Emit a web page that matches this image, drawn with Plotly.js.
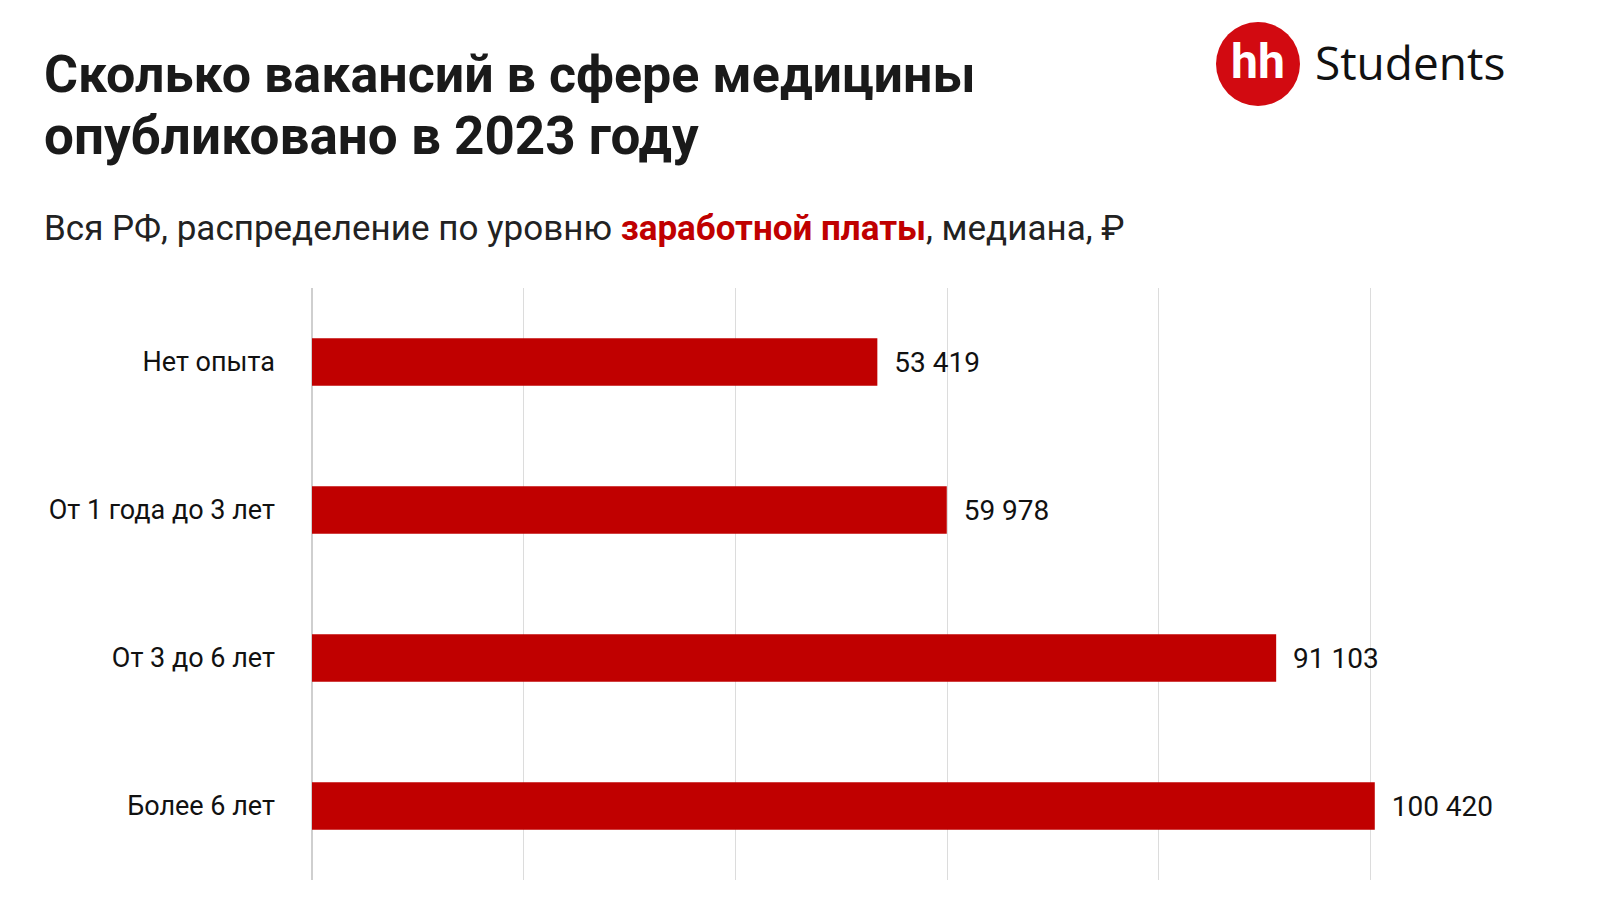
<!DOCTYPE html>
<html>
<head>
<meta charset="utf-8">
<script src="https://cdn.plot.ly/plotly-3.0.1.min.js"></script>
<style>html,body{margin:0;padding:0;background:#fff;}#chart{width:1600px;height:900px;}</style>
</head>
<body>
<div id="chart"></div>
<script>
const categories = ["Нет опыта", "От 1 года до 3 лет", "От 3 до 6 лет", "Более 6 лет"];
const salaries = [53419, 59978, 91103, 100420];
const titleLines = ["Сколько вакансий в сфере медицины", "опубликовано в 2023 году"];
const subtitleText = 'Вся РФ, распределение по уровню <span style="color:#c00000"><b>заработной платы</b></span>, медиана, ₽';

const mainFont = "Roboto, Liberation Sans, sans-serif";
const L = 312, R = 18, T = 288, B = 20, W = 1600, H = 900;
const pw = W - L - R, ph = H - T - B;
const px = x => (x - L) / pw;
const py = y => (H - B - y) / ph;

const trace = {
  type: "bar",
  orientation: "h",
  y: categories,
  x: salaries,
  marker: { color: "#c00000" },
  width: 0.32,
  texttemplate: "\u00a0\u00a0%{x:,}",
  textposition: "outside",
  constraintext: "none",
  cliponaxis: false,
  textfont: { family: mainFont, size: 28, color: "#111111" },
  hoverinfo: "skip"
};

const layout = {
  width: W, height: H,
  margin: { l: L, r: R, t: T, b: B },
  paper_bgcolor: "#ffffff",
  plot_bgcolor: "#ffffff",
  separators: ", ",
  showlegend: false,
  xaxis: {
    range: [0, 120000],
    dtick: 20000,
    showticklabels: false,
    showgrid: true,
    gridcolor: "#dcdcdc",
    gridwidth: 1,
    zeroline: true,
    zerolinecolor: "#cfcfcf",
    zerolinewidth: 1.5,
    showline: false,
    fixedrange: true
  },
  yaxis: {
    autorange: "reversed",
    showgrid: false,
    zeroline: false,
    showline: false,
    ticks: "",
    ticklabelstandoff: 36,
    tickfont: { family: mainFont, size: 27, color: "#111111" },
    fixedrange: true
  },
  annotations: [
    { text: "<b>" + titleLines[0] + "</b>", xref: "paper", yref: "paper", x: px(42), y: py(75), xanchor: "left", yanchor: "middle", showarrow: false, font: { family: mainFont, size: 52, color: "#1a1a1a" } },
    { text: "<b>" + titleLines[1] + "</b>", xref: "paper", yref: "paper", x: px(42), y: py(136), xanchor: "left", yanchor: "middle", showarrow: false, font: { family: mainFont, size: 53, color: "#1a1a1a" } },
    { text: subtitleText, xref: "paper", yref: "paper", x: px(42), y: py(228), xanchor: "left", yanchor: "middle", showarrow: false, font: { family: mainFont, size: 35, color: "#222222" } },
    { text: "<b>hh</b>", xref: "paper", yref: "paper", x: px(1258), y: py(62), xanchor: "center", yanchor: "middle", showarrow: false, font: { family: "Roboto, Liberation Sans, sans-serif", size: 48, color: "#ffffff" } },
    { text: "Students", xref: "paper", yref: "paper", x: px(1313), y: py(62), xanchor: "left", yanchor: "middle", showarrow: false, font: { family: "Open Sans, Noto Sans, sans-serif", size: 46, color: "#111111", weight: 500 } }
  ],
  shapes: [
    { type: "circle", xref: "paper", yref: "paper", xsizemode: "pixel", ysizemode: "pixel", xanchor: px(1258), yanchor: py(64), x0: -42, x1: 42, y0: -42, y1: 42, fillcolor: "#d20a11", line: { width: 0 }, layer: "above" }
  ]
};

Plotly.newPlot("chart", [trace], layout, { displayModeBar: false, staticPlot: true });
</script>
</body>
</html>
